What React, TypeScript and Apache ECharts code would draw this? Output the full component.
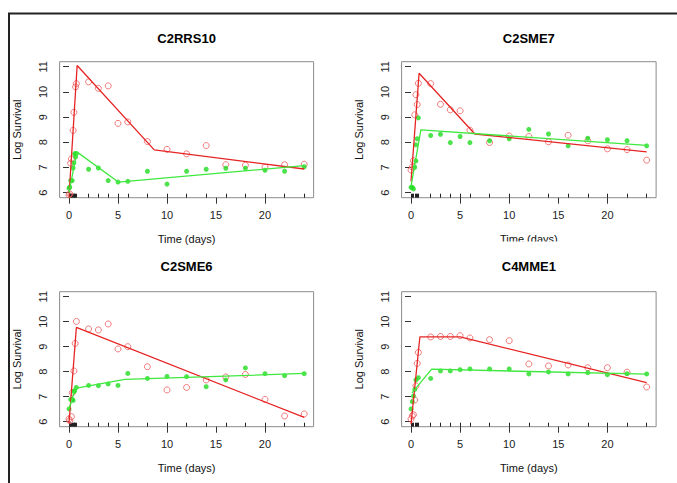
import React, { useEffect, useRef } from "react";
import * as echarts from "echarts";

// ---------- data ----------
const panelTitles = ["C2RRS10", "C2SME7", "C2SME6", "C4MME1"];
const xTicks = [0, 5, 10, 15, 20];
const yTicks = [6, 7, 8, 9, 10, 11];
const xRange = [-0.96, 24.96];
const yRange = [5.8, 11.2];
const xTitle = "Time (days)";
const yTitle = "Log Survival";

// C2RRS10
const redObs1 = [[0, 5.92], [0.08, 5.95], [0.17, 7.17], [0.25, 7.34], [0.42, 8.47], [0.5, 9.19], [0.67, 10.2], [0.75, 10.33], [2, 10.4], [3, 10.14], [4, 10.24], [5, 8.75], [6, 8.81], [8, 8.03], [10, 7.72], [12, 7.54], [14, 7.87], [16, 7.11], [18, 7.09], [20, 7.01], [22, 7.11], [24, 7.13]];
const greenObs1 = [[0, 6.18], [0.08, 6.22], [0.17, 6.48], [0.33, 6.48], [0.42, 6.98], [0.5, 7.18], [0.58, 7.55], [0.67, 7.42], [0.75, 7.55], [2, 6.93], [3, 6.98], [4, 6.48], [5, 6.42], [6, 6.45], [8, 6.85], [10, 6.34], [12, 6.85], [14, 6.93], [16, 6.97], [18, 6.97], [20, 6.89], [22, 6.85], [24, 7.03]];
const redFit1 = [[0, 5.85], [0.83, 11.05], [8.7, 7.7], [24, 6.94]];
const greenFit1 = [[0, 6.0], [0.8, 7.62], [5.03, 6.42], [24, 7.07]];

// C2SME7
const redObs2 = [[0, 6.9], [0.13, 7.02], [0.25, 7.27], [0.38, 9.09], [0.5, 9.89], [0.63, 9.5], [0.75, 10.34], [2, 10.33], [3, 9.51], [4, 9.29], [5, 9.25], [6, 8.48], [8, 7.99], [10, 8.25], [12, 8.23], [14, 8.02], [16, 8.28], [18, 8.06], [20, 7.74], [22, 7.71], [24, 7.29]];
const greenObs2 = [[0, 6.21], [0.13, 6.21], [0.25, 6.15], [0.38, 7.01], [0.5, 7.26], [0.5, 7.9], [0.63, 8.14], [0.75, 8.97], [2, 8.27], [3, 8.32], [4, 7.99], [5, 8.23], [6, 7.99], [8, 8.06], [10, 8.14], [12, 8.51], [14, 8.33], [16, 7.86], [18, 8.16], [20, 8.1], [22, 8.06], [24, 7.86]];
const redFit2 = [[0, 6.45], [0.82, 10.74], [6.5, 8.33], [24, 7.62]];
const greenFit2 = [[0, 6.25], [1.0, 8.49], [24, 7.88]];

// C2SME6
const redObs3 = [[0, 6.11], [0.08, 6.04], [0.25, 6.2], [0.33, 7.16], [0.5, 8.03], [0.63, 9.13], [0.75, 10.01], [2, 9.71], [3, 9.67], [4, 9.91], [5, 8.91], [6, 9.0], [8, 8.2], [10, 7.27], [12, 7.37], [14, 7.67], [16, 7.79], [18, 7.89], [20, 6.89], [22, 6.23], [24, 6.31]];
const greenObs3 = [[0, 6.51], [0.17, 6.89], [0.33, 6.89], [0.42, 6.85], [0.5, 7.2], [0.58, 7.24], [0.75, 7.37], [2, 7.45], [3, 7.44], [4, 7.51], [5, 7.45], [6, 7.93], [8, 7.73], [10, 7.81], [12, 7.8], [14, 7.4], [16, 7.67], [18, 8.15], [20, 7.92], [22, 7.84], [24, 7.92]];
const redFit3 = [[0, 5.95], [0.75, 9.77], [24, 6.17]];
const greenFit3 = [[0, 6.5], [0.63, 7.33], [5.7, 7.69], [24, 7.93]];

// C4MME1
const redObs4 = [[0, 6.11], [0.13, 6.23], [0.25, 6.28], [0.38, 6.87], [0.5, 7.43], [0.63, 8.33], [0.75, 8.77], [2, 9.39], [3, 9.41], [4, 9.41], [5, 9.44], [6, 9.35], [8, 9.28], [10, 9.24], [12, 8.31], [14, 8.23], [16, 8.27], [18, 8.16], [20, 8.16], [22, 7.98], [24, 7.39]];
const greenObs4 = [[0, 6.51], [0.13, 6.8], [0.25, 7.03], [0.38, 7.29], [0.5, 7.67], [0.75, 7.76], [2, 7.73], [3, 8.03], [4, 8.03], [5, 8.08], [6, 8.11], [8, 8.11], [10, 8.11], [12, 7.91], [14, 7.99], [16, 7.91], [18, 7.96], [20, 7.88], [22, 7.92], [24, 7.91]];
const redFit4 = [[0, 5.9], [0.9, 9.39], [5, 9.39], [24, 7.56]];
const greenFit4 = [[0.1, 7.15], [2.1, 8.1], [24, 7.9]];

const redObs = [redObs1, redObs2, redObs3, redObs4];
const greenObs = [greenObs1, greenObs2, greenObs3, greenObs4];
const redFit = [redFit1, redFit2, redFit3, redFit4];
const greenFit = [greenFit1, greenFit2, greenFit3, greenFit4];

// ---------- layout ----------
const grids = [
  { left: 59.6, top: 61.7, width: 254, height: 136 },
  { left: 401.6, top: 61.7, width: 254.5, height: 136 },
  { left: 59.6, top: 291.7, width: 254, height: 135 },
  { left: 401.6, top: 291.7, width: 254.5, height: 135 },
];
const titleY = [38, 38, 266.7, 266.7];
const FONT = "'Liberation Sans', Arial, Helvetica, sans-serif";

const RED_LINE = "#e62424";
const RED_PT = "#ef5a5a";
const GREEN_LINE = "#3fe83f";
const GREEN_PT = "#1fdc1f";

function rugTimes(i: number) {
  const s = new Set<number>();
  redObs[i].forEach((p) => s.add(p[0]));
  greenObs[i].forEach((p) => s.add(p[0]));
  return Array.from(s).sort((a, b) => a - b);
}

function buildOption() {
  const xAxis: any[] = [];
  const yAxis: any[] = [];
  const series: any[] = [];
  const graphic: any[] = [];

  grids.forEach((g, i) => {
    xAxis.push({
      type: "value",
      gridIndex: i,
      position: "bottom",
      min: xRange[0],
      max: xRange[1],
      axisLine: { show: false },
      splitLine: { show: false },
      axisTick: { show: true, customValues: xTicks, length: 6, lineStyle: { color: "#333", width: 1 } },
      axisLabel: { show: true, customValues: xTicks, margin: 12, fontSize: 11, color: "#222", fontFamily: FONT },
      name: xTitle,
      nameLocation: "middle",
      nameGap: 36,
      nameTextStyle: { fontSize: 11, color: "#111", fontFamily: FONT },
    });
    yAxis.push({
      type: "value",
      gridIndex: i,
      min: yRange[0],
      max: yRange[1],
      axisLine: { show: false },
      splitLine: { show: false },
      axisTick: { show: true, customValues: yTicks, length: 6, lineStyle: { color: "#333", width: 1 } },
      axisLabel: { show: true, customValues: yTicks, rotate: 90, margin: 11, fontSize: 11, color: "#222", fontFamily: FONT },
      name: yTitle,
      nameLocation: "middle",
      nameRotate: 90,
      nameGap: 37,
      nameTextStyle: { fontSize: 11, color: "#111", fontFamily: FONT },
    });
    graphic.push({
      type: "text",
      x: g.left + g.width / 2,
      y: titleY[i],
      style: {
        text: panelTitles[i],
        align: "center",
        verticalAlign: "middle",
        font: `bold 13px ${FONT}`,
        fill: "#000",
      },
    });
  });

  // rug axes (ticks inside at every observation time)
  grids.forEach((g, i) => {
    xAxis.push({
      type: "value",
      gridIndex: i,
      position: "bottom",
      min: xRange[0],
      max: xRange[1],
      axisLine: { show: false },
      splitLine: { show: false },
      axisLabel: { show: false },
      axisTick: { show: true, inside: true, customValues: rugTimes(i), length: 4, lineStyle: { color: "#222", width: 1 } },
    });
  });

  grids.forEach((g, i) => {
    series.push({
      type: "scatter",
      xAxisIndex: i,
      yAxisIndex: i,
      data: redObs[i],
      symbol: "circle",
      symbolSize: 6,
      itemStyle: { color: "rgba(0,0,0,0)", borderColor: RED_PT, borderWidth: 1 },
      silent: true,
    });
    series.push({
      type: "scatter",
      xAxisIndex: i,
      yAxisIndex: i,
      data: greenObs[i],
      symbol: "circle",
      symbolSize: 5,
      itemStyle: { color: GREEN_PT, borderWidth: 0 },
      silent: true,
    });
    series.push({
      type: "line",
      xAxisIndex: i,
      yAxisIndex: i,
      data: redFit[i],
      symbol: "none",
      lineStyle: { color: RED_LINE, width: 1.3 },
      silent: true,
      clip: true,
    });
    series.push({
      type: "line",
      xAxisIndex: i,
      yAxisIndex: i,
      data: greenFit[i],
      symbol: "none",
      lineStyle: { color: GREEN_LINE, width: 1.3 },
      silent: true,
      clip: true,
    });
  });

  // outer frame
  graphic.push({
    type: "polyline",
    shape: { points: [[9, 483], [9, 13.5], [677, 13.5]] },
    style: { stroke: "#222", lineWidth: 2, fill: null },
    z: 10,
  });
  // the upper-right x title is partly covered by the lower panel in the original
  graphic.push({
    type: "rect",
    shape: { x: 420, y: 241.5, width: 220, height: 10 },
    style: { fill: "#fff" },
    z: 100,
  });

  return {
    animation: false,
    backgroundColor: "#fff",
    grid: grids.map((g) => ({ ...g, show: true, borderColor: "#8c8c8c", borderWidth: 1, backgroundColor: "transparent", containLabel: false })),
    xAxis,
    yAxis,
    series,
    graphic,
  };
}

export default function App() {
  const ref = useRef<HTMLDivElement>(null);
  useEffect(() => {
    if (!ref.current) return;
    const chart = echarts.init(ref.current, undefined, { renderer: "svg" });
    chart.setOption(buildOption() as any);
    return () => chart.dispose();
  }, []);
  return (
    <div
      ref={ref}
      style={{ position: "fixed", left: 0, top: 0, width: 677, height: 483, background: "#fff" }}
    />
  );
}
